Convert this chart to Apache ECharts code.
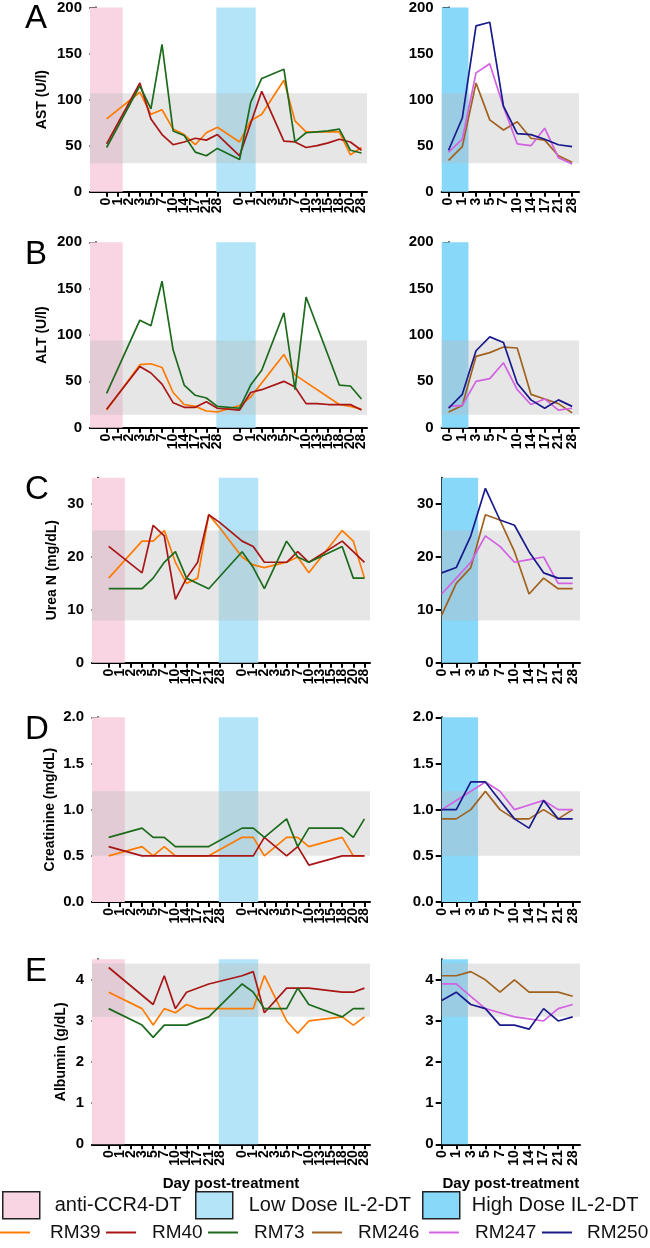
<!DOCTYPE html>
<html><head><meta charset="utf-8">
<script src="https://cdn.jsdelivr.net/npm/echarts@6/dist/echarts.min.js"></script>
<style>html,body{margin:0;padding:0;background:#fff}#c{width:650px;height:1248px}</style>
</head><body><div id="c"></div>
<script>
// ---- tick labels ----
const leftDays1 = ['0','1','2','3','5','7','10','14','17','21','28'];
const leftDays2 = ['0','1','2','3','5','7','10','13','15','18','20','28'];
const rightDays = ['0','1','3','5','7','10','14','17','21','28'];
const seriesNames = ['RM39','RM40','RM73','RM246','RM247','RM250'];
const bandNames = ['anti-CCR4-DT','Low Dose IL-2-DT','High Dose IL-2-DT'];
const panelLetters = ['A','B','C','D','E'];
const yTitles = ['AST (U/l)','ALT (U/l)','Urea N (mg/dL)','Creatinine (mg/dL)','Albumin (g/dL)'];
const xTitle = 'Day post-treatment';

// ---- values (left: 24 slots, slot 12 is the gap; right: 10 days) ----
const astRM39 = [79,null,null,108,84,89,68,62,51,64,70,null,54,77,84,null,121,77,65,65,65,65,40,48];
const astRM40 = [52,null,null,118,79,62,51,54,58,56,62,null,39,null,109,null,55,54,48,50,53,57,54,45];
const astRM73 = [48,null,null,115,90,160,66,61,43,39,47,null,35,97,123,null,133,54,64,65,66,68,45,42];
const astRM246 = [34,49,118,78,67,76,58,56,39,32];
const astRM247 = [43,57,129,139,92,52,50,69,37,30];
const astRM250 = [45,80,180,184,93,63,62,57,51,49];

const altRM39 = [19,null,null,68,69,65,38,25,23,18,17,null,24,33,null,null,79,57,null,null,null,25,23,20];
const altRM40 = [20,null,null,66,59,47,27,22,22,28,21,null,19,38,41,null,50,44,26,26,25,25,25,19];
const altRM73 = [37,null,null,116,110,158,84,46,35,32,23,null,21,46,62,null,124,41,141,null,null,46,45,31];
const altRM246 = [17,24,77,81,87,86,36,31,26,16];
const altRM247 = [23,24,50,53,70,41,25,31,19,21];
const altRM250 = [21,36,83,98,92,48,30,21,30,23];

const bunRM39 = [16,null,null,23,23,25,19,15,16,28,25.5,null,20,18.5,18,18.5,19,20,17,null,null,25,23,16];
const bunRM40 = [22,null,null,17,26,24,12,16,19,28,26.5,null,23,22,19,19,19,21,19,null,null,23,21,19];
const bunRM73 = [14,null,null,14,16,19,21,16,15,14,null,null,21,18,14,null,23,20,19,null,null,22,16,16];
const bunRM246 = [9,15,18,28,27,21,13,16,14,14];
const bunRM247 = [13,16,19,24,22,19,19.5,20,15,15];
const bunRM250 = [17,18,24,33,27,26,21,17,16,16];

const creRM39 = [0.5,null,null,0.6,0.5,0.6,0.5,0.5,0.5,0.5,null,null,0.7,0.7,0.5,null,0.7,0.7,0.6,null,null,0.7,0.5,0.5];
const creRM40 = [0.6,null,null,0.5,0.5,0.5,0.5,0.5,0.5,0.5,0.5,null,0.5,0.5,0.7,null,0.5,0.6,0.4,null,null,0.5,0.5,0.5];
const creRM73 = [0.7,null,null,0.8,0.7,0.7,0.6,0.6,0.6,0.6,null,null,0.8,0.8,0.7,null,0.9,0.6,0.8,0.8,0.8,0.8,0.7,0.9];
const creRM246 = [0.9,0.9,1.0,1.2,1.0,0.9,0.9,1.0,0.9,1.0];
const creRM247 = [1.0,1.1,1.2,1.3,1.2,1.0,1.05,1.1,1.0,1.0];
const creRM250 = [1.0,1.0,1.3,1.3,1.1,0.9,0.8,1.1,0.9,0.9];

const albRM39 = [3.7,null,null,3.3,2.9,3.3,3.2,3.4,3.3,3.3,3.3,null,3.3,3.3,4.1,null,3.0,2.7,3.0,null,null,3.1,2.9,3.1];
const albRM40 = [4.3,null,null,null,3.4,4.1,3.3,3.7,null,3.9,null,null,4.1,4.2,3.2,null,3.8,3.8,3.8,null,null,3.7,3.7,3.8];
const albRM73 = [3.3,null,null,2.9,2.6,2.9,2.9,2.9,null,3.1,null,null,3.9,3.7,3.3,3.3,3.3,3.8,3.4,null,null,3.1,3.3,3.3];
const albRM246 = [4.1,4.1,4.2,4.0,3.7,4.0,3.7,3.7,3.7,3.6];
const albRM247 = [3.9,3.9,3.6,3.3,3.2,3.1,3.05,3.0,3.3,3.4];
const albRM250 = [3.5,3.7,3.4,3.3,2.9,2.9,2.8,3.3,3.0,3.1];

// normal (reference) ranges and y scales
const normalRanges = [[31,107],[14,94],[8,25],[0.5,1.2],[3.1,4.4]];
const yMax = [200,200,35,2,4.5];
const yTicks = [[0,50,100,150,200],[0,50,100,150,200],[0,10,20,30],[0,0.5,1,1.5,2],[0,1,2,3,4]];

const leftData = [[astRM39,astRM40,astRM73],[altRM39,altRM40,altRM73],[bunRM39,bunRM40,bunRM73],[creRM39,creRM40,creRM73],[albRM39,albRM40,albRM73]];
const rightData = [[astRM246,astRM247,astRM250],[altRM246,altRM247,altRM250],[bunRM246,bunRM247,bunRM250],[creRM246,creRM247,creRM250],[albRM246,albRM247,albRM250]];

// ---- styling / layout ----
const FONT = "'Liberation Sans', Arial, Helvetica, sans-serif";
const colors = {RM39:'#FF7A00',RM40:'#A81616',RM73:'#1C6B1C',RM246:'#A0621E',RM247:'#D262E2',RM250:'#1A1A8C'};
const bandColors = {'anti-CCR4-DT':'#F9D5E3','Low Dose IL-2-DT':'#B3E4F8','High Dose IL-2-DT':'#88D8FA'};
const rows = [
  {top:6.7, h:185, lx:90, lw:277, rx:441.7, rw:137.3, rmin:-0.5, hiEnd:1.45, gap:41},
  {top:242.3, h:185.4, lx:90, lw:277, rx:441.7, rw:137.3, rmin:-0.5, hiEnd:1.45, gap:41},
  {top:477.7, h:185, lx:92, lw:278, rx:441.7, rw:138.3, rmin:0, hiEnd:2.5, gap:33},
  {top:717.3, h:184.7, lx:92, lw:278, rx:441.7, rw:138.3, rmin:0, hiEnd:2.5, gap:35},
  {top:959.3, h:185, lx:92, lw:278, rx:441.7, rw:138.3, rmin:0, hiEnd:1.8, gap:23.5}
];
const leftLabels = [...leftDays1, '', ...leftDays2]; // day labels at positions 1..24
const leftPos = []; leftLabels.forEach((l,i)=>{ if(l!=='') leftPos.push(i+1); });
const rightPos = rightDays.map((d,i)=>i);

// label track: one entry per half step of the position scale, so every tick label is drawn
function labelTrack(xmin, xmax, isL) {
  const out = [];
  for (let k = 0; k <= Math.round((xmax - xmin) * 2); k++) {
    const p = xmin + k / 2;
    let lab = '';
    if (Number.isInteger(p)) lab = isL ? (leftLabels[p-1] || '') : (rightDays[p] || '');
    out.push(lab);
  }
  return out;
}

const grids=[], xAxes=[], yAxes=[], series=[], graphics=[];
const axisLine = {show:true, lineStyle:{color:'#000', width:2}};
const tickStyle = {show:true, length:5, lineStyle:{color:'#000', width:2}};

rows.forEach((r, ri) => {
  const yfmt = ri===3 ? (v=>v.toFixed(1)) : (v=>String(v));
  [['L', r.lx, r.lw], ['R', r.rx, r.rw]].forEach(([side, x, w]) => {
    const gi = grids.length;
    grids.push({left:x, top:r.top, width:w, height:r.h, containLabel:false});
    const isL = side==='L';
    const xmin = isL ? -0.5 : r.rmin, xmax = isL ? 24.5 : 9.5;
    const xi = xAxes.length;
    // position axis (data, line, ticks)
    xAxes.push({
      type:'value', gridIndex:gi, position:'bottom', min:xmin, max:xmax,
      axisLine, splitLine:{show:false},
      axisTick:Object.assign({customValues: isL?leftPos:rightPos}, tickStyle),
      axisLabel:{show:false}
    });
    // label axis (day labels, all shown)
    xAxes.push({
      type:'category', gridIndex:gi, position:'bottom', boundaryGap:false,
      data: labelTrack(xmin, xmax, isL),
      axisLine:{show:false}, axisTick:{show:false}, splitLine:{show:false},
      axisLabel:{interval:0, rotate:90, margin:6, fontSize:14, fontWeight:'bold', color:'#000', fontFamily:FONT},
      name: ri===4 ? xTitle : '', nameLocation:'middle', nameGap:32,
      nameTextStyle:{fontSize:15, fontWeight:'bold', color:'#000', fontFamily:FONT}
    });
    yAxes.push({
      type:'value', gridIndex:gi, min:0, max:yMax[ri],
      axisLine, splitLine:{show:false},
      axisTick:Object.assign({customValues:yTicks[ri]}, tickStyle, {length:6}),
      axisLabel:{customValues:yTicks[ri], showMinLabel:true, showMaxLabel:true, formatter:yfmt, margin:8,
        fontSize:15, fontWeight:'bold', color:'#000', fontFamily:FONT},
      name: isL ? yTitles[ri] : '', nameLocation:'middle', nameGap:r.gap,
      nameTextStyle:{fontSize:14, fontWeight:'bold', color:'#000', fontFamily:FONT}
    });
    // treatment bands
    const bands = isL ? [['anti-CCR4-DT', -0.5, 2.45], ['Low Dose IL-2-DT', 10.9, 14.45]]
                      : [['High Dose IL-2-DT', xmin, r.hiEnd]];
    bands.forEach(([bn, a, b]) => {
      series.push({type:'line', name:bn, xAxisIndex:xi, yAxisIndex:gi, data:[], z:1, silent:true,
        itemStyle:{color:bandColors[bn]}, lineStyle:{color:bandColors[bn]},
        markArea:{silent:true, itemStyle:{color:bandColors[bn]}, data:[[{xAxis:a, yAxis:0},{xAxis:b, yAxis:yMax[ri]}]]}});
    });
    // normal range band
    series.push({type:'line', name:'normal', xAxisIndex:xi, yAxisIndex:gi, data:[], z:2, silent:true,
      markArea:{silent:true, itemStyle:{color:'rgba(185,185,185,0.36)'},
        data:[[{xAxis:xmin, yAxis:normalRanges[ri][0]},{xAxis:xmax, yAxis:normalRanges[ri][1]}]]}});
    // animals
    const names = isL ? seriesNames.slice(0,3) : seriesNames.slice(3);
    const vals = isL ? leftData[ri] : rightData[ri];
    names.forEach((n, k) => {
      const data = [];
      vals[k].forEach((v, i) => { if (v !== null) data.push([isL ? i+1 : i, v]); });
      series.push({type:'line', name:n, xAxisIndex:xi, yAxisIndex:gi, data, z:3,
        showSymbol:false, symbol:'none', lineStyle:{width:1.7, color:colors[n]}, itemStyle:{color:colors[n]}});
    });
  });
  graphics.push({type:'text', left:25, top:r.top-4, style:{text:panelLetters[ri], fontSize:33, fill:'#000', fontFamily:FONT}});
});

// legends: one per item so each sits where the reference puts it
const bandLegendPos = [[2,10],[195,11],[422,7]];      // [left, extra text gap]
const lineLegendPos = [[0,15],[106,11],[208,11],[312,11],[429,11],[542,10]];
const legends = [];
bandNames.forEach((n,i) => legends.push({data:[n], left:bandLegendPos[i][0], top:1191, padding:0, icon:'rect',
  itemWidth:37, itemHeight:27, selectedMode:false, itemStyle:{borderColor:'#222', borderWidth:1.5},
  textStyle:{fontSize:20, color:'#111', padding:[0,0,0,bandLegendPos[i][1]], fontFamily:FONT}}));
seriesNames.forEach((n,i) => legends.push({data:[n], left:lineLegendPos[i][0], top:1223, padding:0, icon:'rect',
  itemWidth:30, itemHeight:2, selectedMode:false,
  textStyle:{fontSize:19, color:'#111', padding:[0,0,0,lineLegendPos[i][1]], fontFamily:FONT}}));

const chart = echarts.init(document.getElementById('c'), null, {renderer:'canvas'});
chart.setOption({
  animation:false,
  textStyle:{fontFamily:FONT},
  grid:grids, xAxis:xAxes, yAxis:yAxes, series,
  graphic:graphics,
  legend:legends
});
</script></body></html>
